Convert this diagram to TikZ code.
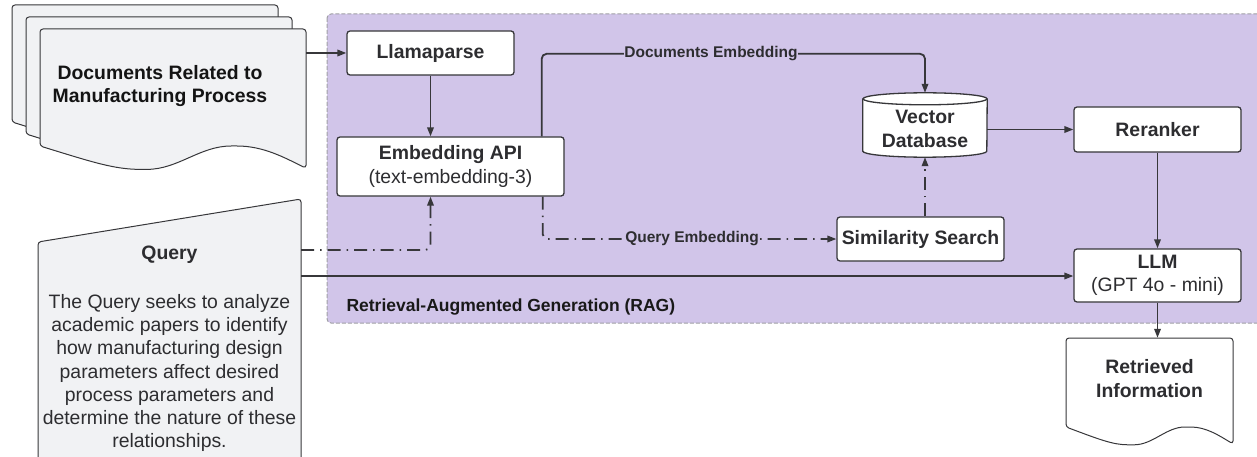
\documentclass[tikz,border=0pt]{standalone}
\usepackage{fontspec}
\setmainfont{Liberation Sans}
\usetikzlibrary{calc,arrows.meta}
\definecolor{ragfill}{RGB}{209,197,233}
\definecolor{docfill}{RGB}{241,242,244}
\definecolor{linec}{RGB}{55,55,58}
\definecolor{txt}{RGB}{45,45,48}
\definecolor{ragline}{RGB}{160,160,165}
\def\titlefont{\fontsize{19.4}{23.3}\selectfont\bfseries}
\def\bodyfont{\fontsize{19.4}{23.3}\selectfont}
\def\lblfont{\fontsize{15.5}{18}\selectfont\bfseries}
\def\docshape[#1](#2,#3)(#4:#5){\draw[#1,shift={(#2,#3)}] (0,0) -- (#4,0) -- (#4,1.19*#5) .. controls (0.92*#4,1.1*#5) and (0.84*#4,#5) .. (0.73*#4,#5) .. controls (0.6*#4,#5) and (0.52*#4,1.2*#5) .. (0.39*#4,1.2*#5) .. controls (0.28*#4,1.2*#5) and (0.2*#4,1.14*#5) .. (0,#5) -- cycle;}
\tikzset{
	box/.style={draw=linec, fill=white, rounded corners=3pt, line width=1.3pt, text=txt, align=center, inner sep=0pt},
	flow/.style={draw=linec, line width=1.8pt, -{Triangle[length=9pt,width=6.5pt]}},
	dashdot/.style={dash pattern=on 13pt off 6pt on 1.5pt off 6pt},
	lbl/.style={fill=ragfill, font=\lblfont, text=txt, inner sep=0.5pt},
	doc/.style={draw=linec, fill=docfill, line width=1pt, rounded corners=3pt},
}
\begin{document}
\begin{tikzpicture}[x=1pt,y=-1pt]
		%%%%% START %%%%%
		\clip (0,0) rectangle (1257,457);
		
		% RAG area
		\draw[fill=ragfill, draw=ragline, line width=1pt, dash pattern=on 4pt off 2pt, rounded corners=4pt] (327,14) rectangle (1280,323);
		\node[anchor=west, font=\fontsize{17.5}{20}\selectfont\bfseries, text=black!90] (rag) at (343,307) {Retrieval-Augmented Generation (RAG)};
		
		% document stack
		\docshape[doc](12,5)(266:117)
		\docshape[doc](26,17)(266:117)
		\docshape[doc](40,29)(266:117)
		\node[minimum width=266pt, minimum height=112pt] (docs) at (173,85) {};
		\node[align=center, font=\titlefont, text=black!92] (dtxt) at (160,86) {Documents Related to\\Manufacturing Process};
		
		% query card
		\draw[doc] (38,480) -- (38,242) -- (301,199) -- (301,480) -- cycle;
		\node[font=\titlefont, text=txt] (qt) at (169.5,255) {Query};
		\node[font=\bodyfont, text=txt, align=center] (qb) at (169.5,373) {The Query seeks to analyze\\academic papers to identify\\how manufacturing design\\parameters affect desired\\process parameters and\\determine the nature of these\\relationships.};
		\coordinate (q1) at (301,250);
		\coordinate (q2) at (301,276);
		
		% pipeline boxes
		\node[box, font=\titlefont, minimum width=167pt, minimum height=44pt] (lp) at (430.5,53) {Llamaparse};
		\node[box, font=\bodyfont, minimum width=227pt, minimum height=59pt] (emb) at (450.5,166.5) {\textbf{Embedding API}\\(text-embedding-3)};
		\node[box, font=\titlefont, minimum width=167pt, minimum height=44pt] (sim) at (920.5,239) {Similarity Search};
		\node[box, font=\titlefont, minimum width=167pt, minimum height=45pt] (rr) at (1157.5,129.5) {Reranker};
		\node[box, font=\bodyfont, minimum width=167pt, minimum height=53pt] (llm) at (1157.5,275.5) {\textbf{LLM}\\(GPT 4o - mini)};
		
		% vector database
		\node[minimum width=124pt, minimum height=64pt, inner sep=0pt] (vdb) at (925,125) {};
		\draw[fill=white, draw=linec, line width=1.3pt] ($(vdb.north west)+(0,6)$) -- ($(vdb.south west)+(0,-6)$) arc[start angle=180, end angle=360, x radius=62pt, y radius=6pt] -- ($(vdb.north east)+(0,6)$);
		\draw[fill=white, draw=linec, line width=1.3pt] ($(vdb.north)+(0,6)$) ellipse [x radius=62pt, y radius=6pt];
		\node[font=\titlefont, text=txt, align=center] at ($(vdb.center)+(0,4)$) {Vector\\Database};
		
		% retrieved information
		\docshape[doc, fill=white](1066,338)(167:89)
		\node[minimum width=167pt, minimum height=81pt, inner sep=0pt, font=\titlefont, text=txt, align=center] (ri) at (1149.5,378.5) {Retrieved\\Information};
		
		% connectors
		\draw[flow] (docs.east |- lp.west) -- (lp.west);
		\draw[flow] (lp.south) -- (lp.south |- emb.north);
		\draw[flow, rounded corners=5pt] ($(emb.north east)+(-23,0)$) |- ($(vdb.north)+(0,-39)$) -- (vdb.north);
		\node[lbl] (de) at (711,54) {Documents Embedding};
		\draw[flow, dashdot, rounded corners=5pt] ($(emb.south east)+(-22,0)$) |- (sim.west);
		\node[lbl] (qe) at (692,239) {Query Embedding};
		\draw[flow, dashdot, rounded corners=5pt] (q1) -| (lp.south |- emb.south);
		\draw[flow, dashdot] (vdb.south |- sim.north) -- (vdb.south);
		\draw[flow] (rr.west -| vdb.east) -- (rr.west);
		\draw[flow] (rr.south) -- (llm.north);
		\draw[flow] (q2) -- (q2 -| llm.west);
		\draw[flow] (llm.south) -- (llm.south |- ri.north);
		
		%%%%% END %%%%%
\end{tikzpicture}
\end{document}
